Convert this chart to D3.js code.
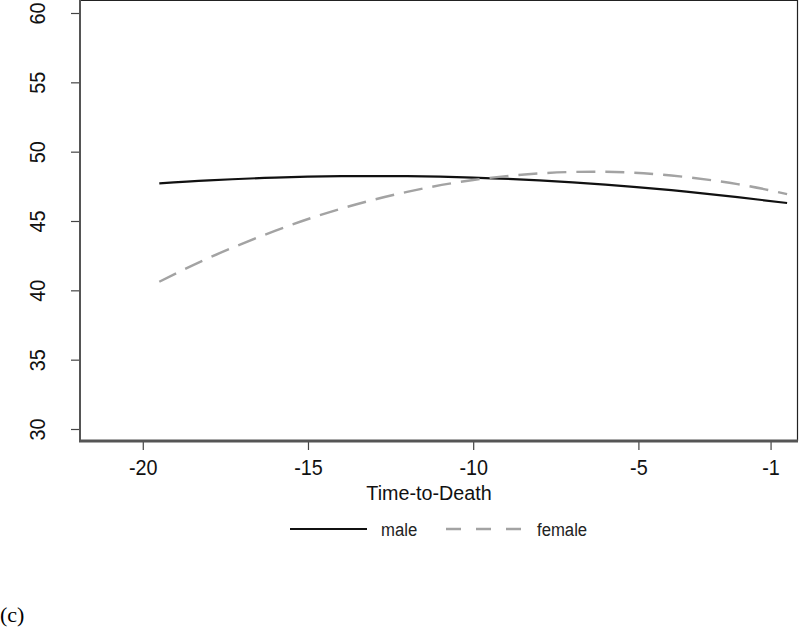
<!DOCTYPE html>
<html>
<head>
<meta charset="utf-8">
<script src="https://cdn.jsdelivr.net/npm/d3@7"></script>
<style>
  body { margin: 0; background: #fff; }
  svg { display: block; }
</style>
</head>
<body>
<svg id="chart" width="800" height="629"></svg>
<script>
// fitted trajectories
let time = [-19.5, -18, -16, -14, -12, -10, -8, -6, -4, -2, -0.5];
let male = [47.71, 47.93, 48.13, 48.23, 48.23, 48.13, 47.93, 47.63, 47.22, 46.72, 46.30];
let female = [40.62, 42.34, 44.29, 45.89, 47.10, 47.96, 48.43, 48.55, 48.28, 47.66, 46.94];

let xTicks = [-20, -15, -10, -5, -1];
let yTicks = [30, 35, 40, 45, 50, 55, 60];

let series = [
    {name: "male", values: male, color: "#111", width: 2.2, dash: null, legendDash: null},
    {name: "female", values: female, color: "#a3a3a3", width: 2.4, dash: "19,10", legendDash: "15,15"}
];

let svg = d3.select("#chart");
let fontFam = "'Liberation Sans', Arial, Helvetica, sans-serif";

let plot = {left: 80, right: 797, top: 0, bottom: 441};

let x = d3.scaleLinear()
    .domain([-21.9, -0.2])
    .range([plot.left, plot.right]);

let y = d3.scaleLinear()
    .domain([30, 60])
    .range([429, 13]);

// frame (top + right thin)
svg.append("path")
    .attr("d", `M${plot.left},${plot.top + 0.5}H${plot.right + 0.5}V${plot.bottom}`)
    .attr("fill", "none")
    .attr("stroke", "#222")
    .attr("stroke-width", 1.2);

// y axis
let yAxis = svg.append("g")
    .attr("transform", `translate(${plot.left},0)`)
    .call(d3.axisLeft(y).tickValues(yTicks).tickSize(9).tickSizeOuter(0));
yAxis.select(".domain").remove();
yAxis.selectAll(".tick line").attr("stroke", "#444").attr("stroke-width", 1.2);
yAxis.selectAll(".tick text").remove();
yAxis.selectAll(".tick").append("text")
    .attr("transform", "translate(-42.5,0) rotate(-90) scale(0.9,1)")
    .attr("text-anchor", "middle")
    .attr("dy", "0.35em")
    .attr("fill", "#111")
    .style("font-family", fontFam)
    .style("font-size", "22px")
    .text(d => d);
svg.append("line")
    .attr("x1", plot.left).attr("x2", plot.left)
    .attr("y1", plot.top).attr("y2", plot.bottom)
    .attr("stroke", "#555").attr("stroke-width", 2);

// x axis
let xAxis = svg.append("g")
    .attr("transform", `translate(0,${plot.bottom})`)
    .call(d3.axisBottom(x).tickValues(xTicks).tickSize(9).tickSizeOuter(0).tickPadding(9)
        .tickFormat(d => String(d)));
xAxis.select(".domain").remove();
xAxis.selectAll(".tick line").attr("stroke", "#444").attr("stroke-width", 1.2);
xAxis.selectAll(".tick text")
    .attr("transform", "scale(0.9,1)")
    .attr("fill", "#111")
    .style("font-family", fontFam)
    .style("font-size", "22px");
svg.append("line")
    .attr("x1", plot.left - 1).attr("x2", plot.right + 1)
    .attr("y1", plot.bottom).attr("y2", plot.bottom)
    .attr("stroke", "#555").attr("stroke-width", 3);

svg.append("text")
    .attr("transform", "translate(429,500) scale(0.94,1)")
    .attr("text-anchor", "middle")
    .attr("fill", "#111")
    .style("font-family", fontFam)
    .style("font-size", "21px")
    .text("Time-to-Death");

// lines
let line = d3.line()
    .x((d, i) => x(time[i]))
    .y(d => y(d))
    .curve(d3.curveNatural);

svg.selectAll(".series")
    .data(series)
    .enter().append("path")
    .attr("class", "series")
    .attr("d", d => line(d.values))
    .attr("fill", "none")
    .attr("stroke", d => d.color)
    .attr("stroke-width", d => d.width)
    .attr("stroke-dasharray", d => d.dash);

// legend
let legendPos = [290, 446];
let leg = svg.selectAll(".legend")
    .data(series)
    .enter().append("g")
    .attr("class", "legend")
    .attr("transform", (d, i) => `translate(${legendPos[i]},529)`);
leg.append("line")
    .attr("x1", 0).attr("x2", 77)
    .attr("stroke", d => d.color)
    .attr("stroke-width", d => d.width)
    .attr("stroke-dasharray", d => d.legendDash);
leg.append("text")
    .attr("transform", "translate(91,0) scale(0.88,1)")
    .attr("dy", "0.35em")
    .attr("fill", "#222")
    .style("font-family", fontFam)
    .style("font-size", "19px")
    .text(d => d.name);

svg.append("text")
    .attr("x", 0)
    .attr("y", 622)
    .attr("fill", "#000")
    .style("font-family", "'Liberation Serif', 'Times New Roman', serif")
    .style("font-size", "22px")
    .text("(c)");
</script>
</body>
</html>
